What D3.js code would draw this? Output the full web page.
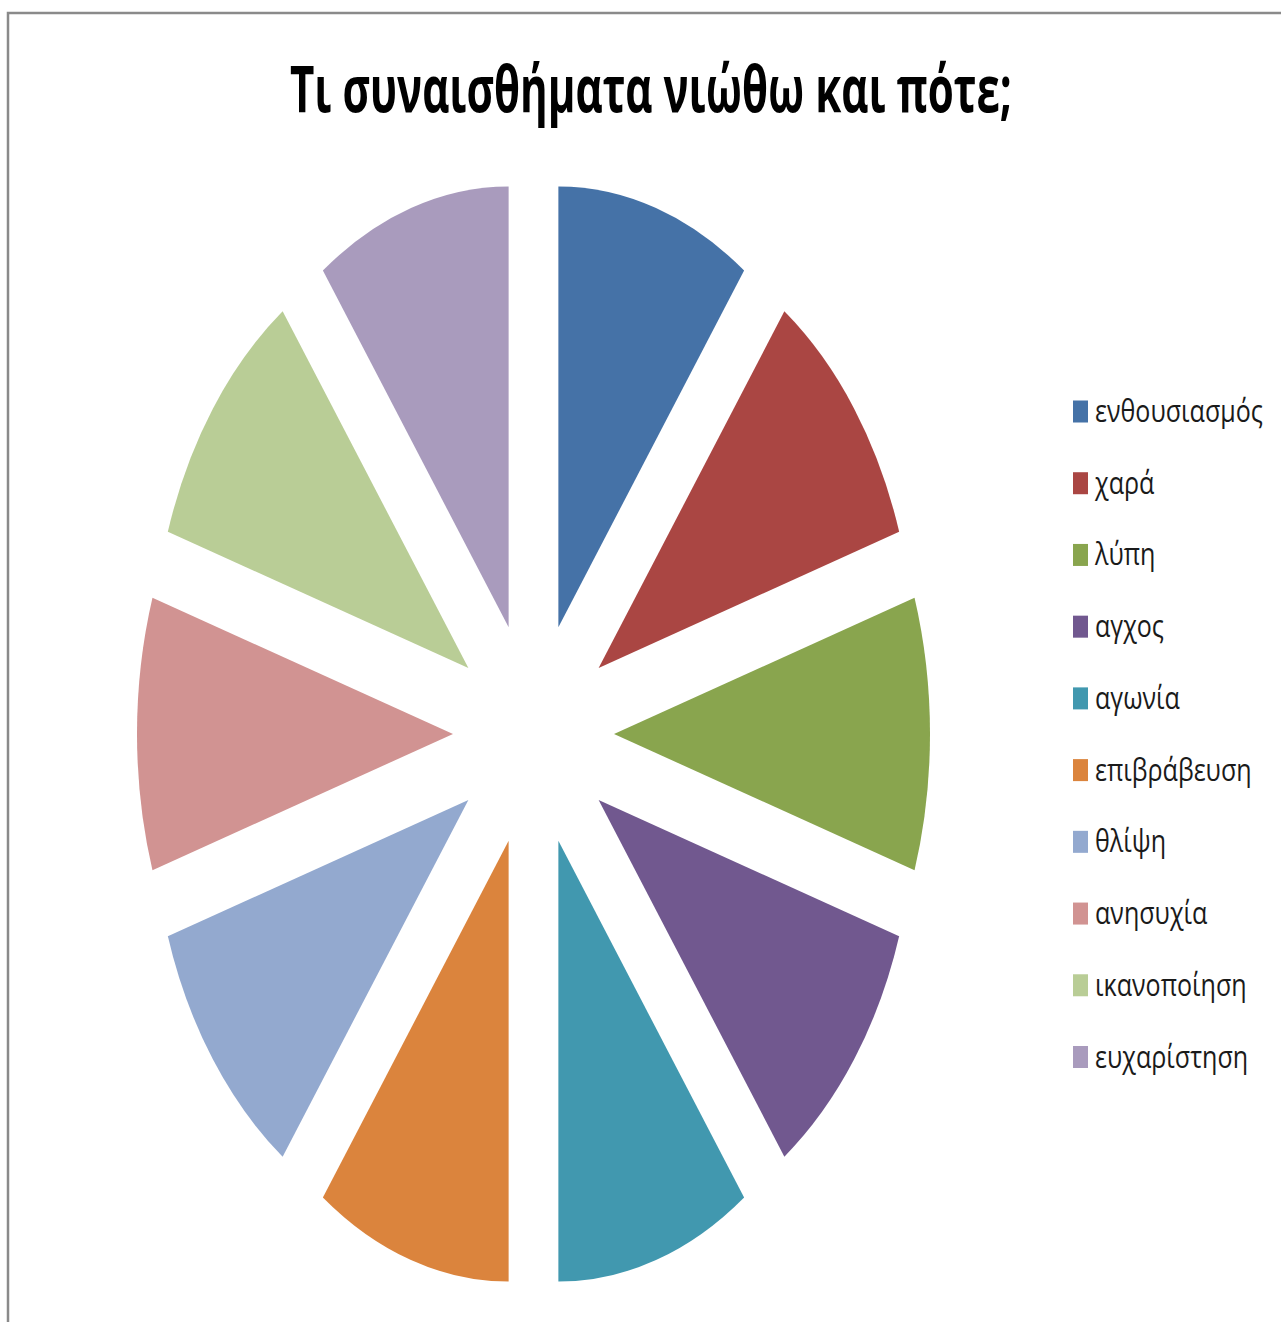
<!DOCTYPE html>
<html>
<head>
<meta charset="utf-8">
<script src="https://cdn.jsdelivr.net/npm/d3@7"></script>
<style>
html,body{margin:0;padding:0;background:#fff;}
svg{display:block;}
</style>
</head>
<body>
<svg id="chart" width="1281" height="1322"></svg>
<script>
const title = "Τι συναισθήματα νιώθω και πότε;";
const categories = ["ενθουσιασμός","χαρά","λύπη","αγχος","αγωνία","επιβράβευση","θλίψη","ανησυχία","ικανοποίηση","ευχαρίστηση"];
const values = [1,1,1,1,1,1,1,1,1,1];
const colors = ["#4572A7","#AA4643","#89A54E","#71588F","#4198AF","#DB843D","#93A9CF","#D19392","#B9CD96","#A99BBD"];

const svg = d3.select("#chart");
const W = 1281, H = 1322;

// frame
svg.append("rect").attr("x",8).attr("y",13).attr("width",W+20).attr("height",H+20)
  .attr("fill","#fff").attr("stroke","#8a8a8a").attr("stroke-width",2.5);

// title
const tt = svg.append("text")
  .attr("font-family","'Open Sans', 'Noto Sans', sans-serif")
  .attr("font-weight","bold").attr("font-size",64).attr("fill","#000")
  .text(title);
const tw = tt.node().getComputedTextLength();
tt.attr("transform",`translate(290,112) scale(${722/tw},1)`);

// pie
const cx = 533.5, cy = 734, R = 316, off = 80.5, k = 1.395;
const color = d3.scaleOrdinal().domain(categories).range(colors);
const pie = d3.pie().sort(null).value(d => d.v);
const arcs = pie(categories.map((c,i)=>({c, v: values[i]})));
const arc = d3.arc().innerRadius(0).outerRadius(R);

const g = svg.append("g").attr("transform",`translate(${cx},${cy}) scale(1,${k})`);
g.selectAll("path").data(arcs).enter().append("path")
  .attr("d", arc)
  .attr("fill", d => color(d.data.c))
  .attr("transform", d => {
    const m = (d.startAngle + d.endAngle)/2;
    return `translate(${off*Math.sin(m)},${-off*Math.cos(m)})`;
  });

// legend
const ly = d3.scalePoint().domain(categories).range([411.5, 1057]);
const lg = svg.append("g");
const items = lg.selectAll("g").data(categories).enter().append("g")
  .attr("transform", d => `translate(0,${ly(d)})`);
items.append("rect").attr("x",1073).attr("y",-11).attr("width",15).attr("height",22)
  .attr("fill", d => color(d));
const labels = items.append("text")
  .attr("font-family","'Open Sans', 'Noto Sans', sans-serif")
  .attr("font-size",31).attr("fill","#1a1a1a")
  .text(d => d);
const refW = labels.filter((d,i)=>i===0).node().getComputedTextLength();
const sx = 168/refW;
labels.attr("transform", `translate(1095,10.5) scale(${sx},1)`);
</script>
</body>
</html>
